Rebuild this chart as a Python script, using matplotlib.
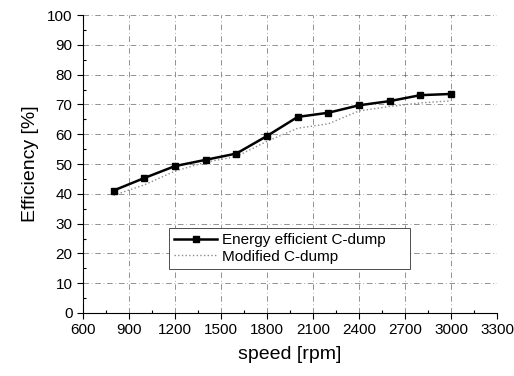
import numpy as np
import matplotlib.pyplot as plt
from matplotlib.ticker import MultipleLocator

plt.rcParams['font.family'] = ['Liberation Sans', 'DejaVu Sans']

# Velocidad del motor (rpm)
speed = np.array([800, 1000, 1200, 1400, 1600, 1800, 2000, 2200, 2400, 2600, 2800, 3000])

# Eficiencia de cada convertidor (%)
eff_energy = np.array([41.1, 45.3, 49.3, 51.4, 53.5, 59.4, 65.8, 67.2, 69.7, 71.1, 73.1, 73.5])
eff_modified = np.array([39.5, 43.0, 47.6, 50.6, 52.5, 57.6, 62.0, 63.5, 67.8, 69.3, 70.5, 71.2])

fig = plt.figure(figsize=(5.14, 3.76), dpi=100)
ax = fig.add_axes([83/514, 1 - 313/376, 414/514, 298/376])

ax.plot(speed, eff_energy, color='black', lw=1.8, marker='s', ms=5,
        label='Energy efficient C-dump', zorder=3)
ax.plot(speed, eff_modified, color='0.55', lw=1.0, ls=':',
        label='Modified C-dump', zorder=2)

ax.set_xlim(600, 3300)
ax.set_ylim(0, 100)
ax.xaxis.set_major_locator(MultipleLocator(300))
ax.xaxis.set_minor_locator(MultipleLocator(150))
ax.yaxis.set_major_locator(MultipleLocator(10))
ax.yaxis.set_minor_locator(MultipleLocator(5))
ax.tick_params(which='major', direction='out', length=4, labelsize=11, width=0.8)
ax.tick_params(which='minor', direction='in', length=2.5, width=0.8)

ax.grid(True, which='major', color='0.4', ls=(0, (8, 4, 1, 4)), lw=0.5)
for s in ['top', 'right']:
    ax.spines[s].set_visible(False)

ax.set_xlabel('speed [rpm]', fontsize=14, labelpad=6)
ax.set_ylabel('Efficiency [%]', fontsize=14, labelpad=6)

leg = ax.legend(loc='lower left', bbox_to_anchor=(0.208, 0.148, 0.582, 0.141),
                mode='expand', fontsize=11, handlelength=2.8, frameon=True,
                fancybox=False, edgecolor='0.3', borderaxespad=0, labelspacing=0.15,
                handletextpad=0.3, borderpad=0.35)
leg.get_frame().set_linewidth(0.7)
leg.get_frame().set_alpha(1)

fig.savefig('out.png', dpi=100)
